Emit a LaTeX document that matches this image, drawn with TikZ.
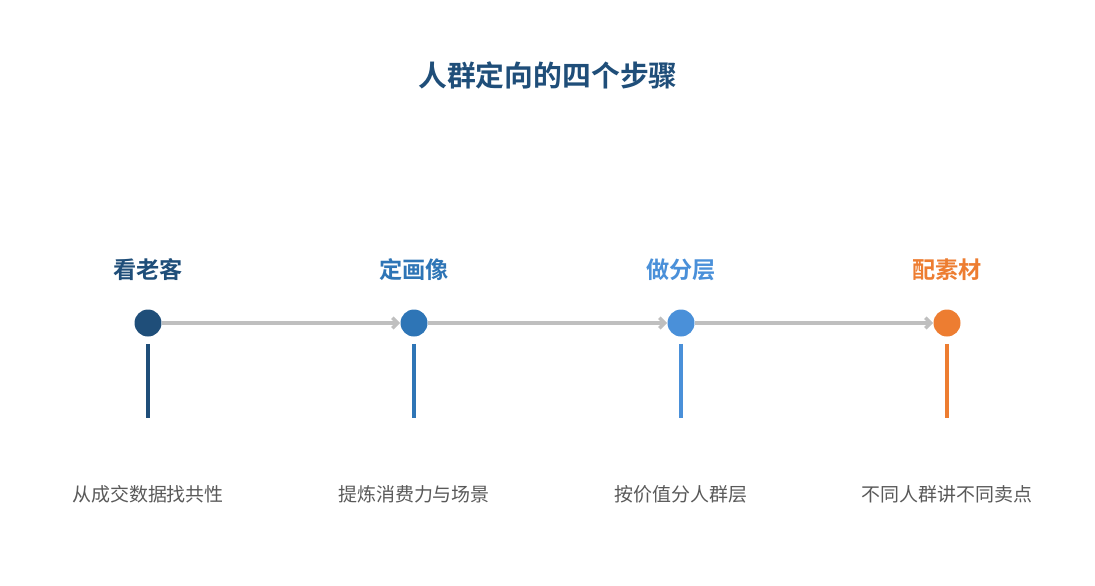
\documentclass[tikz,border=0pt]{standalone}
\usepackage{fontspec}
\setmainfont{Noto Sans CJK SC}
\newfontfamily\cjkbold{Noto Sans CJK SC Bold}
\definecolor{step_dark}{HTML}{1F4E79}
\definecolor{step_mid}{HTML}{2E75B6}
\definecolor{step_light}{HTML}{4A90D9}
\definecolor{step_orange}{HTML}{ED7D31}
\definecolor{line_gray}{HTML}{BFBFBF}
\definecolor{text_gray}{HTML}{595959}
\usepackage{tikz}
\usetikzlibrary{arrows.meta, positioning}

\begin{document}
\begin{tikzpicture}[x=0.02cm, y=-0.02cm,
        dot/.style={circle, inner sep=0pt, minimum size=0.54cm},
        stepname/.style={font=\cjkbold\fontsize{13.2}{15}\selectfont},
        stepdesc/.style={font=\fontsize{10.8}{13}\selectfont, text=text_gray},
        flow/.style={line_gray, line width=2pt, -{Straight Barb[length=3pt, width=6pt]}},
        stem/.style={line width=2.3pt}]
        \useasboundingbox (0,0) rectangle (1095,585);
        % Title
        \node[font=\cjkbold\fontsize{16.4}{19}\selectfont, text=step_dark] (title)
          at (548, 75) {人群定向的四个步骤};
        % Dots
        \node[dot, fill=step_dark] (d1) at (148, 323) {};
        \node[dot, fill=step_mid] (d2) at (414, 323) {};
        \node[dot, fill=step_light] (d3) at (681, 323) {};
        \node[dot, fill=step_orange] (d4) at (947, 323) {};
        % Arrows between dots
        \draw[flow] (d1.east) -- (d2.west);
        \draw[flow] (d2.east) -- (d3.west);
        \draw[flow] (d3.east) -- (d4.west);
        % Step names
        \node[stepname, text=step_dark] (n1) at (148, 270) {看老客};
        \node[stepname, text=step_mid] (n2) at (414, 270) {定画像};
        \node[stepname, text=step_light] (n3) at (681, 270) {做分层};
        \node[stepname, text=step_orange] (n4) at (947, 270) {配素材};
        % Stems
        \draw[stem, step_dark] ([yshift=-4pt]d1.south) -- ++(0, 74);
        \draw[stem, step_mid] ([yshift=-4pt]d2.south) -- ++(0, 74);
        \draw[stem, step_light] ([yshift=-4pt]d3.south) -- ++(0, 74);
        \draw[stem, step_orange] ([yshift=-4pt]d4.south) -- ++(0, 74);
        % Descriptions
        \node[stepdesc] (t1) at (148, 494) {从成交数据找共性};
        \node[stepdesc] (t2) at (414, 494) {提炼消费力与场景};
        \node[stepdesc] (t3) at (681, 494) {按价值分人群层};
        \node[stepdesc] (t4) at (947, 494) {不同人群讲不同卖点};
      \end{tikzpicture}
\end{document}
